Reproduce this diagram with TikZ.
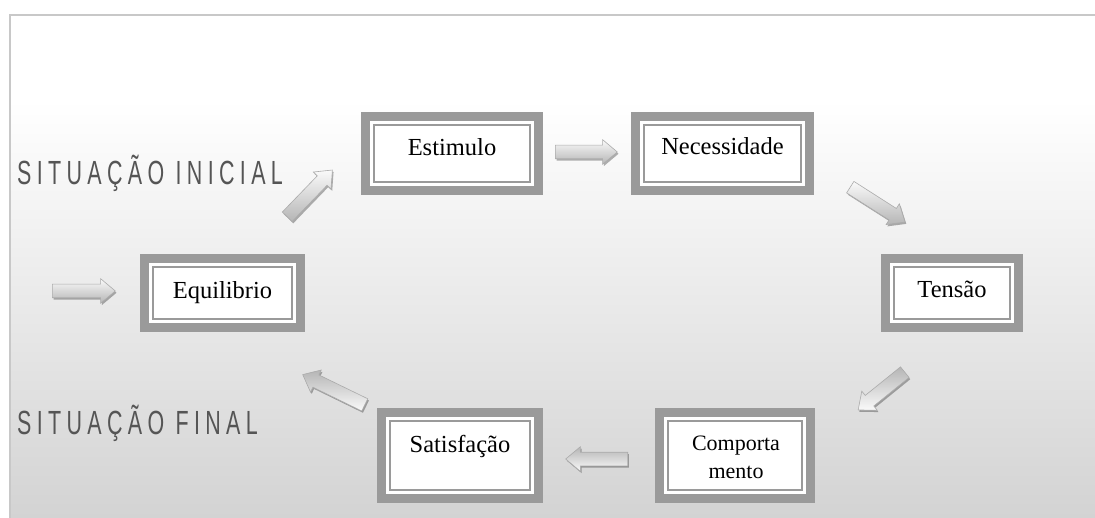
\documentclass[tikz,border=0pt]{standalone}
\usepackage{fontspec}
\setmainfont{Liberation Serif}
\newfontfamily\labfont[FakeStretch=0.64,LetterSpace=16]{Liberation Sans}
\usetikzlibrary{shapes.arrows,shadows}
\definecolor{frameline}{HTML}{C8C8C8}
\definecolor{bgbottom}{HTML}{D3D3D3}
\definecolor{boxgray}{HTML}{9A9A9A}
\definecolor{labgray}{HTML}{555555}
\definecolor{arrlight}{HTML}{FAFAFA}
\definecolor{arrdark}{HTML}{B5B5B5}
\definecolor{arredge}{HTML}{ABABAB}

% framed box: name, centre x, centre y, outer width, outer height
\newcommand\dblbox[5]{%
  \node[outerbox, minimum width=#4pt-9pt, minimum height=#5pt-9pt] (#1) at (#2,#3) {};
  \draw[innerline] ([shift={(8.5pt,-8.5pt)}]#1.north west) rectangle ([shift={(-8.5pt,8.5pt)}]#1.south east);
}

\begin{document}
\begin{tikzpicture}[x=1pt,y=-1pt,
  outerbox/.style={draw=boxgray, line width=9pt, fill=white, inner sep=0pt, outer sep=0pt},
  innerline/.style={draw=boxgray, line width=1.6pt},
  boxtext/.style={font=\fontsize{24.5}{28}\selectfont, anchor=base, inner sep=0pt},
  smalltext/.style={font=\fontsize{22}{28}\selectfont, anchor=base, inner sep=0pt},
  sidelabel/.style={font=\labfont\fontsize{33.5}{40}\selectfont, text=labgray, anchor=base west, inner sep=0pt},
  blockarrow/.style={single arrow, anchor=tail, draw=arredge, line width=0.6pt,
    minimum height=#1, inner sep=6.5pt, single arrow head extend=5.5pt,
    single arrow tip angle=80,
    drop shadow={shadow xshift=1.2pt, shadow yshift=-1.8pt, fill=black, opacity=0.3}},
  litup/.style={top color=arrlight, bottom color=arrdark},
  litdown/.style={top color=arrdark, bottom color=arrlight},
]
\useasboundingbox (0,0) rectangle (1095,518);

% background panel
\fill[white] (0,0) rectangle (1095,518);
\shade[top color=white, bottom color=bgbottom] (10,100) rectangle (1095,518);
\draw[frameline, line width=2pt] (10,518) -- (10,15) -- (1095,15);

% side labels
\node[sidelabel] (ini) at (17,185) {SITUAÇÃO INICIAL};
\node[sidelabel] (fin) at (17,435) {SITUAÇÃO FINAL};

% boxes
\dblbox{est}{452}{153.5}{182}{83}
\dblbox{nec}{722.5}{153.5}{183}{83}
\dblbox{ten}{952}{293}{142}{78}
\dblbox{equ}{222.5}{293}{165}{78}
\dblbox{sat}{460}{455.5}{166}{95}
\dblbox{com}{735}{455.5}{160}{95}

% box texts
\node[boxtext] (est-t) at (452,156) {Estimulo};
\node[boxtext] (nec-t) at (722.5,155) {Necessidade};
\node[boxtext] (ten-t) at (952,298) {Tensão};
\node[boxtext] (equ-t) at (222.5,299) {Equilibrio};
\node[boxtext] (sat-t) at (460,452) {Satisfação};
\node[smalltext] (com-t1) at (736,450) {Comporta};
\node[smalltext] (com-t2) at (736,478) {mento};

% block arrows of the cycle
\node[blockarrow=63, litup] (in) at (52,291) {};
\node[blockarrow=65, litup, rotate=46] (a12) at (287,217) {};
\node[blockarrow=62, litup] (a23) at (555,152) {};
\node[blockarrow=65, litup, rotate=-32.5] (a34) at (850,187) {};
\node[blockarrow=60, litdown, rotate=219] (a45) at (905,372) {};
\node[blockarrow=62, litdown, rotate=180] (a56) at (628,459) {};
\node[blockarrow=69, litdown, rotate=154] (a61) at (365,405) {};
\end{tikzpicture}
\end{document}
